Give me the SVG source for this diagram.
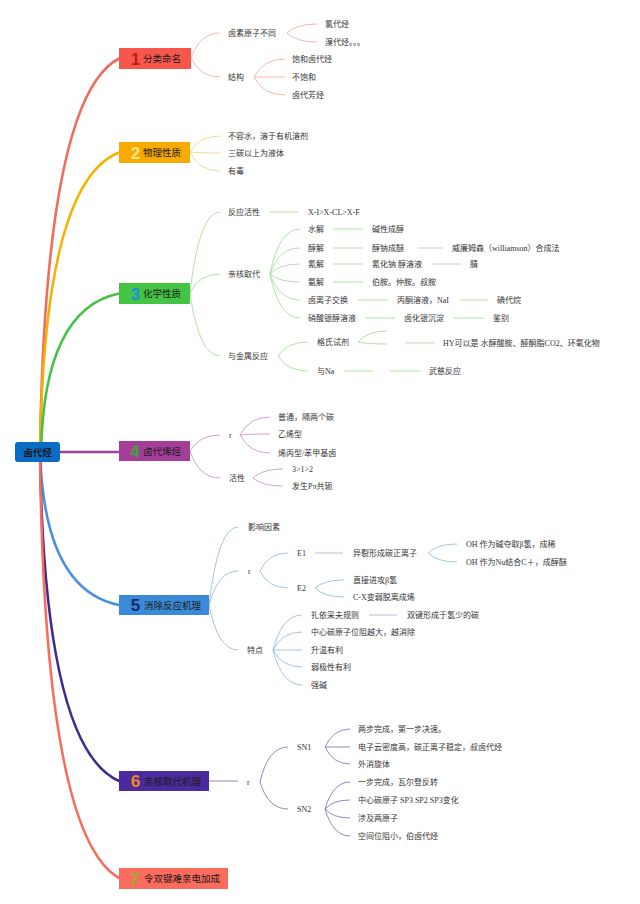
<svg xmlns="http://www.w3.org/2000/svg" width="640" height="904" viewBox="0 0 640 904">
<style>
.t{font-family:"Liberation Serif","Noto Sans CJK SC",serif;font-size:8px;fill:#333}
.bt{font-family:"Noto Sans CJK SC",sans-serif;font-size:9.5px;fill:#1a1a1a}
.num{font-family:"Liberation Sans",sans-serif;font-weight:bold;font-size:17px;text-anchor:middle}
.main{fill:none;stroke-width:2.6;stroke-linecap:round}
.sub{fill:none;stroke-width:0.8}
.c1{stroke:#f3a49e}.c2{stroke:#f6cf78}.c3{stroke:#9dd98e}.c4{stroke:#c78bbf}.c5{stroke:#8db5e0}.c6{stroke:#7a68b5}
</style>
<rect width="640" height="904" fill="#ffffff"/>
<g id="connectors">
<path class="main" stroke="#f26a5c" d="M40 452 Q45 97 119 58.5"/>
<path class="main" stroke="#f6b000" d="M40 452 Q44 182 119 152.5"/>
<path class="main" stroke="#45c145" d="M41 452 Q44 309 119 293.5"/>
<path class="main" stroke="#a43f99" stroke-width="3" d="M60 452 L119 452"/>
<path class="main" stroke="#4a90dc" d="M40 452 Q44 590 119 605"/>
<path class="main" stroke="#3e2a8f" d="M40 452 Q44 748 119 781"/>
<path class="main" stroke="#f96b5b" d="M40 452 Q44 835 119 878"/>
<g class="sub c1">
<path d="M191 58 Q200 33 220 33"/><path d="M191 58 Q200 77 220 77"/>
<path d="M287 33 Q296 24 317 24"/><path d="M287 33 Q296 42 317 42"/>
<path d="M254 77 Q263 59 285 59"/><path d="M254 77 L285 77"/><path d="M254 77 Q263 95 285 95"/>
</g>
<g class="sub c2">
<path d="M190 152 Q199 136 220 136"/><path d="M190 152 Q199 153 220 153"/><path d="M190 152 Q199 171 220 171"/>
</g>
<g class="sub c3">
<path d="M190 293 Q199 212 220 212"/><path d="M190 293 Q199 274 220 274"/><path d="M190 293 Q199 356 220 356"/>
<path d="M270 212 L298 212"/>
<path d="M270 274 Q279 229 300 229"/><path d="M270 274 Q279 248 300 248"/><path d="M270 274 Q279 264 300 264"/>
<path d="M270 274 Q279 282 300 282"/><path d="M270 274 Q279 300 300 300"/><path d="M270 274 Q279 318 300 318"/>
<path d="M333 229 L363 229"/><path d="M333 248 L363 248"/><path d="M418 248 L443 248"/>
<path d="M333 264 L363 264"/><path d="M433 264 L461 264"/><path d="M333 282 L363 282"/>
<path d="M358 300 L388 300"/><path d="M460 300 L488 300"/>
<path d="M366 318 L395 318"/><path d="M454 318 L484 318"/>
<path d="M278 356 Q287 342 308 342"/><path d="M278 356 Q287 371 308 371"/>
<path d="M358 342 Q367 331 387 331"/><path d="M358 342 Q367 344 387 344"/>
<path d="M405 343 L435 343"/>
<path d="M344 371 L373 371"/><path d="M390 371 L420 371"/>
</g>
<g class="sub c4">
<path d="M190 451 Q199 435 220 435"/><path d="M190 451 Q199 478 220 478"/>
<path d="M240 435 Q249 417 270 417"/><path d="M240 435 Q249 434 270 434"/><path d="M240 435 Q249 453 270 453"/>
<path d="M253 478 Q262 469 283 469"/><path d="M253 478 Q262 486 283 486"/>
</g>
<g class="sub c5">
<path d="M209 605 Q218 527 238 527"/><path d="M209 605 Q218 571 238 571"/><path d="M209 605 Q218 650 238 650"/>
<path d="M260 571 Q268 553 288 553"/><path d="M260 571 Q268 588 288 588"/>
<path d="M315 553 L343 553"/>
<path d="M428 553 Q437 544 457 544"/><path d="M428 553 Q437 562 457 562"/>
<path d="M315 588 Q324 580 344 580"/><path d="M315 588 Q324 597 344 597"/>
<path d="M273 650 Q282 615 302 615"/><path d="M273 650 Q282 632 302 632"/><path d="M273 650 L302 650"/>
<path d="M273 650 Q282 667 302 667"/><path d="M273 650 Q282 685 302 685"/>
<path d="M369 615 L397 615"/>
</g>
<g class="sub c6">
<path d="M209 781 L238 781"/>
<path d="M260 782 Q268 747 288 747"/><path d="M260 782 Q268 809 288 809"/>
<path d="M325 747 Q333 729 350 729"/><path d="M325 747 L350 747"/><path d="M325 747 Q333 764 350 764"/>
<path d="M325 809 Q333 782 350 782"/><path d="M325 809 Q333 800 350 800"/><path d="M325 809 Q333 818 350 818"/><path d="M325 809 Q333 836 350 836"/>
</g>
</g>
<g id="root">
<rect x="15" y="442" width="45" height="20" rx="3" fill="#0a6cc5"/>
<text x="37.5" y="455.5" class="bt" text-anchor="middle" font-weight="bold" fill="#0b1a33">卤代烃</text>
</g>
<g id="b1">
<rect x="119" y="48" width="72" height="21" fill="#f5584b"/>
<text x="135.5" y="64.5" class="num" fill="#c01a15">1</text>
<text x="143" y="62" class="bt">分类命名</text>
</g>
<g id="b1-children">
<text x="228" y="36" class="t">卤素原子不同</text>
<text x="228" y="80" class="t">结构</text>
<text x="325" y="27" class="t">氯代烃</text>
<text x="325" y="45" class="t">溴代烃。。。</text>
<text x="292" y="62" class="t">饱和卤代烃</text>
<text x="292" y="80" class="t">不饱和</text>
<text x="292" y="98" class="t">卤代芳烃</text>
</g>
<g id="b2">
<rect x="119" y="142" width="71" height="21" fill="#f7ab00"/>
<text x="135.5" y="158.5" class="num" fill="#fde68a">2</text>
<text x="143" y="156" class="bt">物理性质</text>
</g>
<g id="b2-children">
<text x="228" y="139" class="t">不容水，溶于有机溶剂</text>
<text x="228" y="156" class="t">三碳以上为液体</text>
<text x="228" y="174" class="t">有毒</text>
</g>
<g id="b3">
<rect x="119" y="283" width="71" height="21" fill="#43c444"/>
<text x="135.5" y="299.5" class="num" fill="#1a8fe0">3</text>
<text x="143" y="297" class="bt">化学性质</text>
</g>
<g id="b3-children">
<text x="228" y="215" class="t">反应活性</text>
<text x="308" y="215" class="t">X-I&gt;X-CL&gt;X-F</text>
<text x="228" y="277" class="t">亲核取代</text>
<text x="308" y="232" class="t">水解</text>
<text x="308" y="251" class="t">醇解</text>
<text x="308" y="267" class="t">氰解</text>
<text x="308" y="285" class="t">氨解</text>
<text x="308" y="303" class="t">卤离子交换</text>
<text x="308" y="321" class="t">硝酸银醇溶液</text>
<text x="372" y="232" class="t">碱性成醇</text>
<text x="372" y="251" class="t">醇钠成醚</text>
<text x="452" y="251" class="t">威廉姆森（williamson）合成法</text>
<text x="372" y="267" class="t">氰化钠 醇溶液</text>
<text x="470" y="267" class="t">腈</text>
<text x="372" y="285" class="t">伯胺。仲胺。叔胺</text>
<text x="397" y="303" class="t">丙酮溶液，NaI</text>
<text x="497" y="303" class="t">碘代烷</text>
<text x="404" y="321" class="t">卤化银沉淀</text>
<text x="493" y="321" class="t">鉴别</text>
<text x="228" y="359" class="t">与金属反应</text>
<text x="317" y="345" class="t">格氏试剂</text>
<text x="317" y="374" class="t">与Na</text>
<text x="443" y="346" class="t">HY可以是 水醇酸胺、醛酮脂CO2、环氧化物</text>
<text x="429" y="374" class="t">武慈反应</text>
</g>
<g id="b4">
<rect x="119" y="441" width="71" height="20" fill="#a43f99"/>
<text x="135" y="457" class="num" fill="#3aa63a">4</text>
<text x="143" y="454.5" class="bt">卤代烯烃</text>
</g>
<g id="b4-children">
<text x="229" y="438" class="t">r</text>
<text x="229" y="481" class="t">活性</text>
<text x="278" y="420" class="t">普通，隔两个碳</text>
<text x="278" y="437" class="t">乙烯型</text>
<text x="278" y="456" class="t">烯丙型/苯甲基卤</text>
<text x="292" y="472" class="t">3&gt;1&gt;2</text>
<text x="292" y="489" class="t">发生Pπ共轭</text>
</g>
<g id="b5">
<rect x="119" y="595" width="90" height="20" fill="#3a8ad8"/>
<text x="135.5" y="611" class="num" fill="#12286e">5</text>
<text x="144" y="608.5" class="bt">消除反应机理</text>
</g>
<g id="b5-children">
<text x="248" y="530" class="t">影响因素</text>
<text x="248" y="574" class="t">r</text>
<text x="247" y="653" class="t">特点</text>
<text x="297" y="556" class="t">E1</text>
<text x="297" y="591" class="t">E2</text>
<text x="353" y="556" class="t">异裂形成碳正离子</text>
<text x="466" y="547" class="t">OH 作为碱夺取β氢，成稀</text>
<text x="466" y="565" class="t">OH 作为Nu结合C＋，成醇醚</text>
<text x="353" y="583" class="t">直接进攻β氢</text>
<text x="353" y="600" class="t">C-X变弱脱离成烯</text>
<text x="311" y="618" class="t">扎依采夫规则</text>
<text x="407" y="618" class="t">双键形成于氢少的碳</text>
<text x="311" y="635" class="t">中心碳原子位阻越大，越消除</text>
<text x="311" y="653" class="t">升温有利</text>
<text x="311" y="670" class="t">弱极性有利</text>
<text x="311" y="688" class="t">强碱</text>
</g>
<g id="b6">
<rect x="119" y="771" width="90" height="20" fill="#4a2a9c"/>
<text x="135.5" y="787" class="num" fill="#f08a1e">6</text>
<text x="144" y="784.5" class="bt">亲核取代机理</text>
</g>
<g id="b6-children">
<text x="247" y="785" class="t">r</text>
<text x="297" y="750" class="t">SN1</text>
<text x="297" y="812" class="t">SN2</text>
<text x="358" y="732" class="t">两步完成，第一步决速。</text>
<text x="358" y="750" class="t">电子云密度高，碳正离子稳定，叔卤代烃</text>
<text x="358" y="767" class="t">外消旋体</text>
<text x="358" y="785" class="t">一步完成，瓦尔登反转</text>
<text x="358" y="803" class="t">中心碳原子 SP3 SP2 SP3变化</text>
<text x="358" y="821" class="t">涉及两原子</text>
<text x="358" y="839" class="t">空间位阻小，伯卤代烃</text>
</g>
<g id="b7">
<rect x="119" y="868" width="109" height="21" fill="#fb6b5e"/>
<text x="135" y="884.5" class="num" fill="#8fb62b">7</text>
<text x="144" y="882" class="bt">令双键难亲电加成</text>
</g>
</svg>
